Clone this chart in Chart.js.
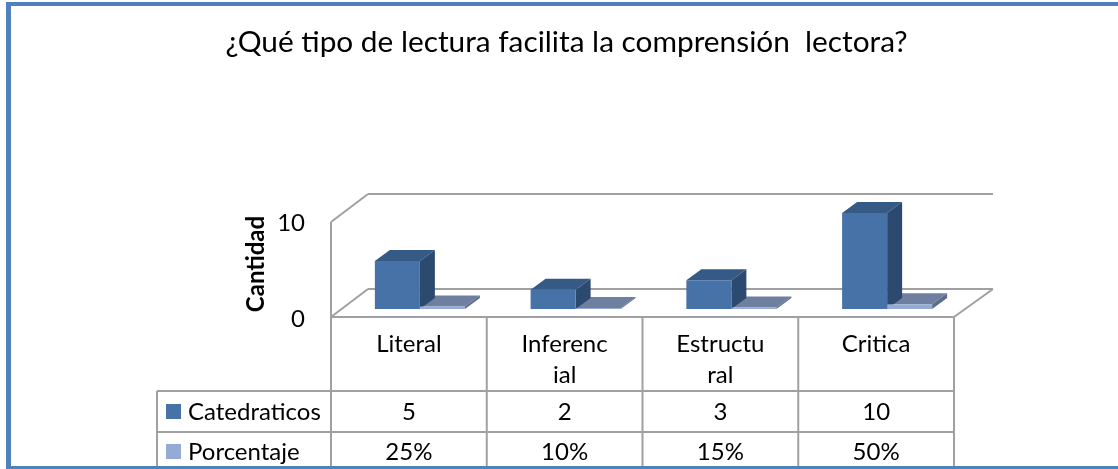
<!DOCTYPE html>
<html>
<head>
<meta charset="utf-8">
<style>
    html, body { margin: 0; padding: 0; background: #fff; }
    #wrap { position: relative; width: 1118px; height: 469px; overflow: hidden; }
    #frameTop { position: absolute; left: 6px; top: 2px; right: 0; height: 4px; background: #4f81bd; }
    #frameLeft { position: absolute; left: 6px; top: 2px; width: 5px; height: 467px; background: #4f81bd; }
    #frameBottom { position: absolute; left: 6px; top: 466px; right: 0; height: 3px; background: #4f81bd; }
    canvas { position: absolute; left: 0; top: 0; }
</style>
</head>
<body>
<div id="wrap">
    <div id="frameTop"></div>
    <div id="frameLeft"></div>
    <canvas id="chart" width="1118" height="469"></canvas>
    <div id="frameBottom"></div>
</div>
<script src="https://cdn.jsdelivr.net/npm/chart.js@4/dist/chart.umd.min.js"></script>
<script>
const chartTitle = '¿Qué tipo de lectura facilita la comprensión  lectora?';
const categories = ['Literal', 'Inferencial', 'Estructural', 'Critica'];
const categoryLines = [['Literal'], ['Inferenc', 'ial'], ['Estructu', 'ral'], ['Critica']];
const catedraticos = [5, 2, 3, 10];
const porcentaje = [0.25, 0.10, 0.15, 0.50];
const porcentajeLabels = ['25%', '10%', '15%', '50%'];
const yTicks = [0, 10];

const FONT = 'Lato, Carlito, sans-serif';
const LINE = '#a0a0a0';
const DEPTH_X = 15, DEPTH_Y = 11;      // bar depth
const WALL_X = 37, WALL_Y = 28;        // wall and floor depth

function poly(ctx, pts, fill, stroke) {
    ctx.beginPath();
    pts.forEach((p, i) => i ? ctx.lineTo(p[0], p[1]) : ctx.moveTo(p[0], p[1]));
    ctx.closePath();
    ctx.fillStyle = fill;
    ctx.fill();
    if (stroke) {
        ctx.strokeStyle = stroke;
        ctx.lineWidth = 1;
        ctx.stroke();
    }
}

function line(ctx, x1, y1, x2, y2) {
    ctx.beginPath();
    ctx.moveTo(x1, y1);
    ctx.lineTo(x2, y2);
    ctx.stroke();
}

// back wall and floor behind the bars, bar tops and sides
const depthPlugin = {
    id: 'depth',
    beforeDatasetsDraw(chart) {
        const { ctx, scales } = chart;
        const y0 = scales.y.getPixelForValue(0) + 8;
        const y10 = scales.y.getPixelForValue(10) + 9;
        const left = scales.x.left - 11;
        const right = scales.x.right - 11;
        ctx.save();
        ctx.strokeStyle = LINE;
        ctx.lineWidth = 2;
        line(ctx, left, y10, left, y0);
        line(ctx, left, y10, left + WALL_X, y10 - WALL_Y);
        line(ctx, left + WALL_X, y10 - WALL_Y, right + WALL_X + 2, y10 - WALL_Y);
        line(ctx, left, y0, left + WALL_X, y0 - WALL_Y);
        line(ctx, left + WALL_X, y0 - WALL_Y, right + WALL_X + 2, y0 - WALL_Y);
        line(ctx, right, y0, right + WALL_X + 2, y0 - WALL_Y);
        line(ctx, left, y0, right, y0);
        // second series goes first, the taller bar sits over its top
        const faces = [
            { index: 1, top: '#6f7f9f', side: '#5a6b8b' },
            { index: 0, top: '#355a85', side: '#2c4a70' }
        ];
        faces.forEach(f => {
            chart.getDatasetMeta(f.index).data.forEach(bar => {
                const l = bar.x - bar.width / 2;
                const r = bar.x + bar.width / 2;
                poly(ctx, [[l, bar.y], [l + DEPTH_X, bar.y - DEPTH_Y], [r + DEPTH_X, bar.y - DEPTH_Y], [r, bar.y]], f.top);
                poly(ctx, [[r, bar.y], [r + DEPTH_X, bar.y - DEPTH_Y], [r + DEPTH_X, bar.base - DEPTH_Y], [r, bar.base]], f.side);
            });
        });
        ctx.restore();
    },
    afterDraw(chart) {
        const { ctx, scales } = chart;
        const colors = chart.data.datasets.map(d => d.backgroundColor);
        const left = scales.x.left - 11;
        const colW = (scales.x.right - scales.x.left) / categories.length;
        const top = scales.y.getPixelForValue(0) + 8;
        const row1 = 391, row2 = 432, bottom = 469, keyLeft = 157;

        ctx.save();
        ctx.textBaseline = 'middle';
        ctx.fillStyle = '#000';

        // axis tick labels and axis name
        ctx.font = '24px ' + FONT;
        ctx.textAlign = 'right';
        yTicks.forEach(t => {
            ctx.fillText(String(t), 305, scales.y.getPixelForValue(t) + 10);
        });
        ctx.save();
        ctx.translate(256, 264);
        ctx.rotate(-Math.PI / 2);
        ctx.textAlign = 'center';
        ctx.font = 'bold 24px ' + FONT;
        ctx.fillText('Cantidad', 0, 0);
        ctx.restore();

        // data table
        ctx.strokeStyle = LINE;
        ctx.lineWidth = 2;
        for (let i = 0; i <= categories.length; i++) {
            line(ctx, left + i * colW, top, left + i * colW, bottom);
        }
        line(ctx, keyLeft, row1, left + 4 * colW, row1);
        line(ctx, keyLeft, row2, left + 4 * colW, row2);
        line(ctx, keyLeft, row1, keyLeft, bottom);

        ctx.textAlign = 'center';
        ctx.font = '24px ' + FONT;
        ctx.fillStyle = '#000';
        categoryLines.forEach((lines, i) => {
            lines.forEach((text, j) => ctx.fillText(text, left + (i + 0.5) * colW, 344 + j * 31));
            ctx.fillText(String(catedraticos[i]), left + (i + 0.5) * colW, 412);
            ctx.fillText(porcentajeLabels[i], left + (i + 0.5) * colW, 452);
        });

        ctx.textAlign = 'left';
        chart.data.datasets.forEach((d, i) => {
            const y = i ? 452 : 412;
            ctx.fillStyle = colors[i];
            ctx.fillRect(166, y - 8, 15, 15);
            ctx.fillStyle = '#000';
            ctx.fillText(d.label, 188, y);
        });
        ctx.restore();
    }
};

new Chart(document.getElementById('chart'), {
    type: 'bar',
    data: {
        labels: categories,
        datasets: [
            { label: 'Catedraticos', data: catedraticos, backgroundColor: '#4672a8' },
            { label: 'Porcentaje', data: porcentaje, backgroundColor: '#95abd3' }
        ]
    },
    options: {
        responsive: false,
        animation: false,
        layout: { padding: { left: 15 } },
        datasets: { bar: { categoryPercentage: 0.578, barPercentage: 1 } },
        plugins: {
            legend: { display: false },
            tooltip: { enabled: false },
            title: {
                display: true,
                text: chartTitle,
                color: '#000',
                font: { family: FONT, size: 29.8, weight: 'normal', lineHeight: 1.2 },
                padding: { top: 25, bottom: 152.24 }
            }
        },
        scales: {
            x: {
                grid: { display: false },
                border: { display: false },
                ticks: { display: false },
                afterFit: s => { s.height = 160; }
            },
            y: {
                min: 0,
                max: 10,
                grid: { display: false },
                border: { display: false },
                ticks: { display: false, stepSize: 10 },
                afterFit: s => { s.width = 327; }
            },
            // empty axis, keeps the title centred where it sits in the picture
            spacer: {
                position: 'right',
                grid: { display: false },
                border: { display: false },
                ticks: { display: false },
                afterFit: s => { s.width = 153; }
            }
        }
    },
    plugins: [depthPlugin]
});
</script>
</body>
</html>
